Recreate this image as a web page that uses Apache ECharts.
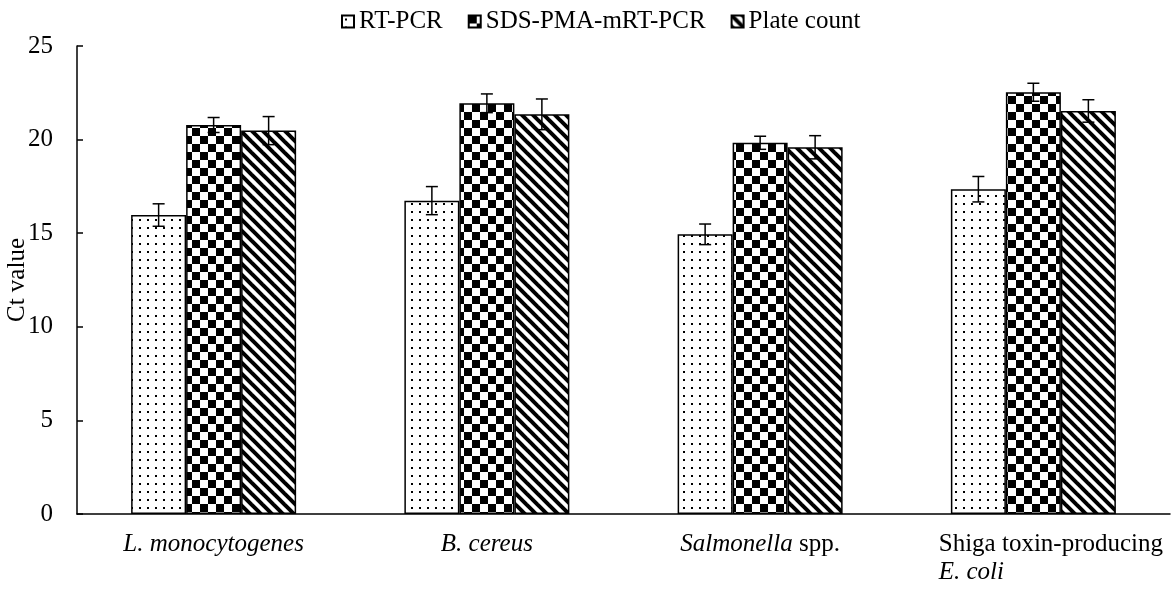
<!DOCTYPE html>
<html>
<head>
<meta charset="utf-8">
<script src="https://cdn.jsdelivr.net/npm/echarts@6/dist/echarts.min.js"></script>
<style>
  html, body { margin: 0; padding: 0; background: #fff; }
  #chart { width: 1174px; height: 590px; }
</style>
</head>
<body>
<div id="chart"></div>
<script>
var categories = ['L. monocytogenes', 'B. cereus', 'Salmonella spp.', 'Shiga toxin-producing E. coli'];
var seriesNames = ['RT-PCR', 'SDS-PMA-mRT-PCR', 'Plate count'];

var rtpcr = [15.97, 16.74, 14.94, 17.35];
var rtpcrErr = [0.60, 0.75, 0.55, 0.68];
var sdsPma = [20.78, 21.94, 19.83, 22.53];
var sdsPmaErr = [0.40, 0.50, 0.35, 0.48];
var plate = [20.48, 21.35, 19.59, 21.53];
var plateErr = [0.75, 0.82, 0.62, 0.60];

var yTicks = [0, 5, 10, 15, 20, 25];

var FONT = 'Liberation Serif';
var BAR_W = 55;

// pattern fills
function makeCanvas(w, h) {
  var c = document.createElement('canvas');
  c.width = w; c.height = h;
  var ctx = c.getContext('2d');
  ctx.fillStyle = '#fff';
  ctx.fillRect(0, 0, w, h);
  return { c: c, ctx: ctx };
}
function dotPattern() {
  var p = makeCanvas(8, 8);
  p.ctx.fillStyle = '#000';
  p.ctx.fillRect(3, 3, 2, 2);
  return p.c;
}
function checkPattern() {
  var p = makeCanvas(16, 16);
  p.ctx.fillStyle = '#000';
  p.ctx.fillRect(0, 0, 8, 8);
  p.ctx.fillRect(8, 8, 8, 8);
  return p.c;
}
function stripePattern() {
  var n = 11;
  var p = makeCanvas(n, n);
  var ctx = p.ctx;
  ctx.strokeStyle = '#000';
  ctx.lineWidth = 4;
  [[-n, 0], [0, 0], [n, 0]].forEach(function (o) {
    ctx.beginPath();
    ctx.moveTo(o[0] - 2, o[1] - 2);
    ctx.lineTo(o[0] + n + 2, o[1] + n + 2);
    ctx.stroke();
  });
  return p.c;
}
var fills = [
  { image: dotPattern(), repeat: 'repeat' },
  { image: checkPattern(), repeat: 'repeat' },
  { image: stripePattern(), repeat: 'repeat' }
];

function bars(name, vals, fill) {
  return {
    name: name,
    type: 'bar',
    data: vals,
    barWidth: BAR_W,
    barGap: '0%',
    itemStyle: { color: fill, borderColor: '#000', borderWidth: 1.5 },
    emphasis: { disabled: true }
  };
}

function errorBars(name, vals, errs, offset) {
  return {
    name: name + ' err',
    type: 'custom',
    z: 10,
    silent: true,
    encode: { x: 0, y: 1 },
    data: vals.map(function (v, i) { return [i, v, errs[i]]; }),
    renderItem: function (params, api) {
      var x = api.coord([api.value(0), 0])[0] + offset;
      var hi = api.coord([api.value(0), api.value(1) + api.value(2)])[1];
      var lo = api.coord([api.value(0), api.value(1) - api.value(2)])[1];
      var st = { stroke: '#000', lineWidth: 1.5 };
      return {
        type: 'group',
        children: [
          { type: 'line', shape: { x1: x, y1: hi, x2: x, y2: lo }, style: st },
          { type: 'line', shape: { x1: x - 6, y1: hi, x2: x + 6, y2: hi }, style: st },
          { type: 'line', shape: { x1: x - 6, y1: lo, x2: x + 6, y2: lo }, style: st }
        ]
      };
    }
  };
}

var labelText = {
  'L. monocytogenes': '{i|L. monocytogenes}',
  'B. cereus': '{i|B. cereus}',
  'Salmonella spp.': '{i|Salmonella}{n| spp.}',
  'Shiga toxin-producing E. coli': '{sp| }{nl|Shiga toxin-producing}\n{sp| }{il|E. coli}'
};

var chart = echarts.init(document.getElementById('chart'));
chart.setOption({
  animation: false,
  textStyle: { fontFamily: FONT, color: '#000' },
  legend: {
    data: seriesNames,
    left: 336,
    top: 4,
    itemWidth: 12,
    itemHeight: 12,
    itemGap: 25,
    icon: 'rect',
    textStyle: { fontFamily: FONT, fontSize: 25, color: '#000' }
  },
  grid: { left: 77, right: 4, top: 46, bottom: 76, containLabel: false, outerBoundsMode: 'none' },
  xAxis: {
    type: 'category',
    data: categories,
    axisLine: { lineStyle: { color: '#000', width: 1.5 } },
    axisTick: { show: false },
    axisLabel: {
      margin: 16,
      interval: 0,
      fontFamily: FONT,
      fontSize: 25,
      color: '#000',
      lineHeight: 28,
      formatter: function (v) { return labelText[v]; },
      rich: {
        i: { fontFamily: FONT, fontSize: 25, fontStyle: 'italic', color: '#000', lineHeight: 28 },
        n: { fontFamily: FONT, fontSize: 25, color: '#000', lineHeight: 28 },
        nl: { fontFamily: FONT, fontSize: 25, color: '#000', lineHeight: 28, align: 'left' },
        il: { fontFamily: FONT, fontSize: 25, fontStyle: 'italic', color: '#000', lineHeight: 28, align: 'left' },
        sp: { width: 35, align: 'left', lineHeight: 28 }
      }
    }
  },
  yAxis: {
    type: 'value',
    min: yTicks[0],
    max: yTicks[yTicks.length - 1],
    interval: 5,
    name: 'Ct value',
    nameLocation: 'middle',
    nameGap: 47,
    nameMoveOverlap: false,
    nameTextStyle: { fontFamily: FONT, fontSize: 25, color: '#000' },
    axisLine: { show: true, lineStyle: { color: '#000', width: 1.5 } },
    axisTick: { show: true, inside: true, length: 6, lineStyle: { color: '#000', width: 1.5 } },
    axisLabel: { margin: 24, fontFamily: FONT, fontSize: 25, color: '#000' },
    splitLine: { show: false }
  },
  series: [
    bars(seriesNames[0], rtpcr, fills[0]),
    bars(seriesNames[1], sdsPma, fills[1]),
    bars(seriesNames[2], plate, fills[2]),
    errorBars(seriesNames[0], rtpcr, rtpcrErr, -BAR_W),
    errorBars(seriesNames[1], sdsPma, sdsPmaErr, 0),
    errorBars(seriesNames[2], plate, plateErr, BAR_W)
  ]
});
</script>
</body>
</html>
